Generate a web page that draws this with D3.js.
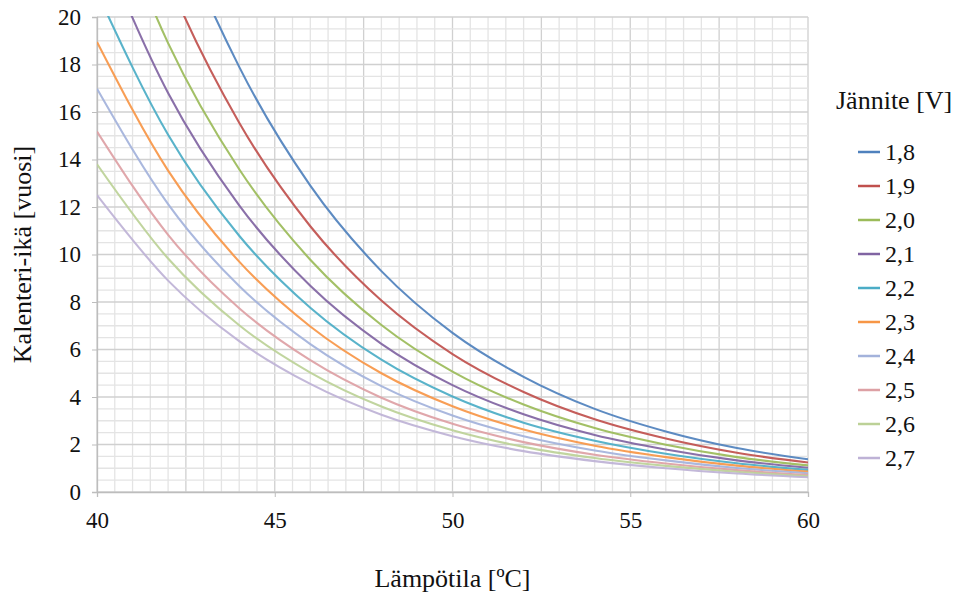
<!DOCTYPE html>
<html><head><meta charset="utf-8">
<script src="https://cdn.jsdelivr.net/npm/d3@7/dist/d3.min.js"></script>
<style>body{margin:0;background:#fff}svg{display:block}svg text{fill:#111}</style>
</head><body><svg id="chart" width="964" height="596"></svg>
<script>
const temps = [40, 42, 44, 46, 48, 50, 52, 54, 56, 58, 60];
const voltages = ["1,8", "1,9", "2,0", "2,1", "2,2", "2,3", "2,4", "2,5", "2,6", "2,7"];
const v18 = [34.6, 24.8, 17.9, 12.9, 9.3, 6.7, 4.85, 3.5, 2.55, 1.85, 1.38];
const v19 = [30.1, 21.6, 15.55, 11.19, 8.06, 5.81, 4.21, 3.06, 2.25, 1.65, 1.24];
const v20 = [26.4, 18.9, 13.59, 9.78, 7.03, 5.07, 3.68, 2.69, 1.99, 1.47, 1.12];
const v21 = [23.5, 16.8, 12.07, 8.68, 6.24, 4.50, 3.27, 2.40, 1.79, 1.33, 1.02];
const v22 = [21.05, 15.04, 10.79, 7.76, 5.57, 4.02, 2.92, 2.16, 1.61, 1.21, 0.93];
const v23 = [18.95, 13.53, 9.70, 6.97, 5.00, 3.61, 2.63, 1.95, 1.47, 1.11, 0.86];
const v24 = [16.98, 12.12, 8.67, 6.23, 4.46, 3.22, 2.35, 1.75, 1.33, 1.01, 0.79];
const v25 = [15.18, 10.83, 7.74, 5.55, 3.97, 2.87, 2.10, 1.57, 1.20, 0.92, 0.72];
const v26 = [13.8, 9.83, 7.02, 5.03, 3.60, 2.60, 1.90, 1.43, 1.10, 0.85, 0.67];
const v27 = [12.5, 8.9, 6.35, 4.55, 3.25, 2.35, 1.72, 1.30, 1.00, 0.78, 0.62];
const seriesValues = [v18, v19, v20, v21, v22, v23, v24, v25, v26, v27];
const colors = ["#4F81BD", "#C0504D", "#9BBB59", "#8064A2", "#4BACC6", "#F79646", "#A3B2DB", "#DDA0A4", "#BCD197", "#BEB2D6"];
const xTickVals = [40, 45, 50, 55, 60];
const yTickVals = [0, 2, 4, 6, 8, 10, 12, 14, 16, 18, 20];
const xTitle = "Lämpötila [ºC]";
const yTitle = "Kalenteri-ikä [vuosi]";
const legendTitle = "Jännite [V]";

const FONT = "'Liberation Serif','Times New Roman','DejaVu Serif',serif";
const svg = d3.select("#chart");
const L = 97, R = 808, T = 17, B = 492;
const x = d3.scaleLinear().domain([40, 60]).range([L, R]);
const y = d3.scaleLinear().domain([0, 20]).range([B, T]);

// grid
const g = svg.append("g");
g.selectAll(".vmin").data(d3.range(40, 60.01, 0.5)).join("line")
  .attr("x1", d => x(d)).attr("x2", d => x(d)).attr("y1", T).attr("y2", B)
  .attr("stroke", d => (d % 2.5 === 0) ? "#d0d0d0" : "#e4e4e4").attr("stroke-width", 1.3);
g.selectAll(".hmin").data(d3.range(0, 20.01, 0.5)).join("line")
  .attr("y1", d => y(d)).attr("y2", d => y(d)).attr("x1", L).attr("x2", R)
  .attr("stroke", d => (d % 2 === 0) ? "#d0d0d0" : "#e4e4e4").attr("stroke-width", 1.3);

// axes
const xAxis = svg.append("g").attr("transform", `translate(0,${B})`)
  .call(d3.axisBottom(x).tickValues(xTickVals).tickSize(5).tickPadding(15).tickFormat(d3.format("d")));
const yAxis = svg.append("g").attr("transform", `translate(${L},0)`)
  .call(d3.axisLeft(y).tickValues(yTickVals).tickSize(5).tickPadding(11).tickFormat(d3.format("d")));
[xAxis, yAxis].forEach(a => {
  a.attr("font-family", FONT).attr("font-size", 23);
  a.select(".domain").attr("stroke", "#bdbdbd").attr("stroke-width", 1.3);
  a.selectAll(".tick line").attr("stroke", "#bdbdbd");
  a.selectAll("text").attr("fill", "#111");
});

// clip
svg.append("clipPath").attr("id", "clip").append("rect")
  .attr("x", L).attr("y", T - 1).attr("width", R - L).attr("height", B - T + 1);

const line = d3.line().x((d, i) => x(temps[i])).y(d => y(d)).curve(d3.curveMonotoneX);
svg.append("g").attr("clip-path", "url(#clip)")
  .selectAll("path").data(seriesValues).join("path")
  .attr("d", d => line(d)).attr("fill", "none")
  .attr("stroke", (d, i) => colors[i]).attr("stroke-width", 2.1).attr("stroke-opacity", 0.92);

// titles
svg.append("text").attr("x", (L + R) / 2).attr("y", 587).attr("text-anchor", "middle")
  .attr("font-family", FONT).attr("font-size", 26).text(xTitle);
svg.append("text").attr("transform", `translate(31,${(T + B) / 2}) rotate(-90)`)
  .attr("text-anchor", "middle").attr("font-family", FONT).attr("font-size", 26).text(yTitle);

// legend
const lg = svg.append("g");
lg.append("text").attr("x", 836).attr("y", 109).attr("font-family", FONT).attr("font-size", 26).text(legendTitle);
const items = lg.selectAll(".it").data(voltages).join("g")
  .attr("transform", (d, i) => `translate(0,${152 + i * 34})`);
items.append("line").attr("x1", 858).attr("x2", 880).attr("y1", 0).attr("y2", 0)
  .attr("stroke", (d, i) => colors[i]).attr("stroke-width", 2.5);
items.append("text").attr("x", 885).attr("y", 8).attr("font-family", FONT).attr("font-size", 24).text(d => d);
</script></body></html>
